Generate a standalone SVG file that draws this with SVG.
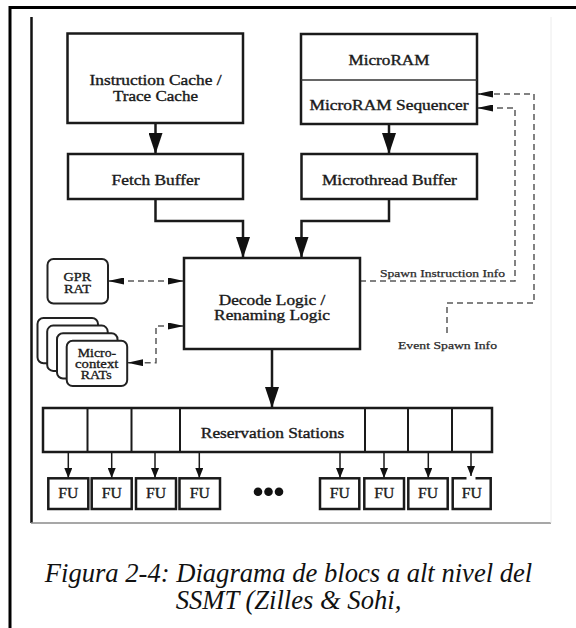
<svg xmlns="http://www.w3.org/2000/svg" width="576" height="628" viewBox="0 0 576 628">
  <defs>
    <style>
      .box { fill: #fff; stroke: #1a1a1a; stroke-width: 2.5; }
      .rbox { fill: #fff; stroke: #222; stroke-width: 2; }
      .lbl { font-family: "Liberation Serif", "Times New Roman", serif; font-size: 14px; fill: #1a1a1a; stroke: #1a1a1a; stroke-width: 0.35; text-anchor: middle; }
      .sm { font-size: 11.5px; stroke-width: 0.3; }
      .note { font-family: "Liberation Serif", "Times New Roman", serif; font-size: 11px; fill: #2a2a2a; stroke: #2a2a2a; stroke-width: 0.25; text-anchor: middle; }
      .cap { font-family: "Liberation Serif", "Times New Roman", serif; font-style: italic; font-size: 26.6px; fill: #111; text-anchor: middle; }
      .flow { fill: none; stroke: #1a1a1a; stroke-width: 2.5; }
      .thin { fill: none; stroke: #1a1a1a; stroke-width: 1.5; }
      .dash { fill: none; stroke: #5a5a5a; stroke-width: 1.5; stroke-dasharray: 6 4; }
    </style>
    <marker id="big" markerUnits="userSpaceOnUse" markerWidth="21" markerHeight="14" refX="21" refY="7" orient="auto">
      <path d="M0,0 L21,7 L0,14 z" fill="#111"/>
    </marker>
    <marker id="small" markerUnits="userSpaceOnUse" markerWidth="10" markerHeight="8" refX="10" refY="4" orient="auto">
      <path d="M0,0 L10,4 L0,8 z" fill="#111"/>
    </marker>
    <marker id="dhead" markerUnits="userSpaceOnUse" markerWidth="16" markerHeight="7" refX="16" refY="3.5" orient="auto-start-reverse">
      <path d="M0,0 L16,3.5 L0,7 z" fill="#111"/>
    </marker>
  </defs>

  <rect width="576" height="628" fill="#fff"/>

  <!-- page frame -->
  <g id="frame">
    <path d="M10,628 V7.5 H576" fill="none" stroke="#000" stroke-width="3"/>
    <line x1="31.5" y1="17" x2="31.5" y2="523" stroke="#111" stroke-width="2.5"/>
    <line x1="31" y1="523" x2="551" y2="523" stroke="#8a8a8a" stroke-width="1.3"/>
    <line x1="551" y1="17" x2="551" y2="523" stroke="#ececec" stroke-width="1"/>
  </g>

  <!-- connectors -->
  <g id="connectors">
    <line class="flow" x1="155.5" y1="123" x2="155.5" y2="154" marker-end="url(#big)"/>
    <line class="flow" x1="389" y1="124" x2="389" y2="154" marker-end="url(#big)"/>
    <path class="flow" d="M155.5,199 V221 H243 V258" marker-end="url(#big)"/>
    <path class="flow" d="M389,199 V221 H301.5 V258" marker-end="url(#big)"/>
    <line class="flow" x1="272" y1="349" x2="272" y2="408" marker-end="url(#big)"/>

    <path class="dash" d="M108,281 H184" marker-start="url(#dhead)" marker-end="url(#dhead)"/>
    <path class="dash" d="M184,326 H156 V362.7 H127.3" marker-start="url(#dhead)" marker-end="url(#dhead)"/>
    <path class="dash" d="M360,281 H515 V108 H477" marker-end="url(#dhead)"/>
    <path class="dash" d="M447,333 V303 H534 V94 H477" marker-end="url(#dhead)"/>

    <line class="thin" x1="68.3" y1="452" x2="68.3" y2="478" marker-end="url(#small)"/>
    <line class="thin" x1="111.7" y1="452" x2="111.7" y2="478" marker-end="url(#small)"/>
    <line class="thin" x1="155" y1="452" x2="155" y2="478" marker-end="url(#small)"/>
    <line class="thin" x1="199.3" y1="452" x2="199.3" y2="478" marker-end="url(#small)"/>
    <line class="thin" x1="340" y1="452" x2="340" y2="478" marker-end="url(#small)"/>
    <line class="thin" x1="384" y1="452" x2="384" y2="478" marker-end="url(#small)"/>
    <line class="thin" x1="428.3" y1="452" x2="428.3" y2="478" marker-end="url(#small)"/>
    <line class="thin" x1="471" y1="452" x2="471" y2="476" marker-end="url(#small)"/>
  </g>

  <g id="icache">
    <rect class="box" x="67.5" y="33.5" width="175.5" height="89.5"/>
    <text class="lbl" x="155.5" y="85" textLength="132" lengthAdjust="spacingAndGlyphs">Instruction Cache /</text>
    <text class="lbl" x="155.5" y="101" textLength="85" lengthAdjust="spacingAndGlyphs">Trace Cache</text>
  </g>

  <g id="microram">
    <rect class="box" x="301" y="34" width="176" height="90"/>
    <line x1="301" y1="80" x2="477" y2="80" stroke="#333" stroke-width="1.3"/>
    <text class="lbl" x="389" y="64.5" textLength="81" lengthAdjust="spacingAndGlyphs">MicroRAM</text>
    <text class="lbl" x="389" y="109.5" textLength="159" lengthAdjust="spacingAndGlyphs">MicroRAM Sequencer</text>
  </g>

  <g id="fetch-buffer">
    <rect class="box" x="68" y="154" width="175" height="45"/>
    <text class="lbl" x="155.5" y="184.5" textLength="88" lengthAdjust="spacingAndGlyphs">Fetch Buffer</text>
  </g>

  <g id="microthread-buffer">
    <rect class="box" x="301.5" y="154" width="175.5" height="45"/>
    <text class="lbl" x="389.4" y="184.5" textLength="135" lengthAdjust="spacingAndGlyphs">Microthread Buffer</text>
  </g>

  <g id="decode">
    <rect class="box" x="184" y="258" width="176" height="91"/>
    <text class="lbl" x="272" y="304.5" textLength="106.6" lengthAdjust="spacingAndGlyphs">Decode Logic /</text>
    <text class="lbl" x="272" y="319.5" textLength="115.8" lengthAdjust="spacingAndGlyphs">Renaming Logic</text>
  </g>

  <g id="gpr-rat">
    <rect class="rbox" x="47.5" y="259" width="60.5" height="44.5" rx="6"/>
    <text class="lbl sm" x="77.3" y="280.5" textLength="27.7" lengthAdjust="spacingAndGlyphs">GPR</text>
    <text class="lbl sm" x="77.5" y="292.5" textLength="27" lengthAdjust="spacingAndGlyphs">RAT</text>
  </g>

  <g id="microcontext-rats">
    <rect class="rbox" x="37.5" y="318" width="60.5" height="45.3" rx="6"/>
    <rect class="rbox" x="47.2" y="325.6" width="60.5" height="45.3" rx="6"/>
    <rect class="rbox" x="57" y="333.2" width="60.5" height="45.3" rx="6"/>
    <rect class="rbox" x="66.7" y="340.8" width="60.5" height="45.3" rx="6"/>
    <text class="lbl sm" x="97" y="356.5" textLength="38.3" lengthAdjust="spacingAndGlyphs">Micro-</text>
    <text class="lbl sm" x="96.7" y="367.5" textLength="43.3" lengthAdjust="spacingAndGlyphs">context</text>
    <text class="lbl sm" x="96.2" y="378.5" textLength="31" lengthAdjust="spacingAndGlyphs">RATs</text>
  </g>

  <g id="spawn-labels">
    <text class="note" x="442.5" y="277" textLength="125" lengthAdjust="spacingAndGlyphs">Spawn Instruction Info</text>
    <text class="note" x="447.5" y="349" textLength="99" lengthAdjust="spacingAndGlyphs">Event Spawn Info</text>
  </g>

  <g id="reservation-stations">
    <rect class="box" x="43" y="408" width="449" height="44" stroke-width="2"/>
    <path d="M87.5,408 V452 M131.5,408 V452 M180,408 V452 M365,408 V452 M408,408 V452 M452,408 V452" stroke="#1a1a1a" stroke-width="2"/>
    <text class="lbl" x="272.5" y="438" textLength="143.4" lengthAdjust="spacingAndGlyphs">Reservation Stations</text>
  </g>

  <g id="fu1"><rect class="box" x="48.3" y="478.3" width="40" height="30.7"/><text class="lbl" x="68.3" y="498" textLength="20" lengthAdjust="spacingAndGlyphs">FU</text></g>
  <g id="fu2"><rect class="box" x="91.7" y="478.3" width="40" height="30.7"/><text class="lbl" x="111.7" y="498" textLength="20" lengthAdjust="spacingAndGlyphs">FU</text></g>
  <g id="fu3"><rect class="box" x="136" y="478.3" width="40" height="30.7"/><text class="lbl" x="156" y="498" textLength="20" lengthAdjust="spacingAndGlyphs">FU</text></g>
  <g id="fu4"><rect class="box" x="179.5" y="478.3" width="40.5" height="30.7"/><text class="lbl" x="199.7" y="498" textLength="20" lengthAdjust="spacingAndGlyphs">FU</text></g>
  <g id="fu5"><rect class="box" x="320" y="478.3" width="39.3" height="30.7"/><text class="lbl" x="339.7" y="498" textLength="20" lengthAdjust="spacingAndGlyphs">FU</text></g>
  <g id="fu6"><rect class="box" x="364.3" y="478.3" width="39.7" height="30.7"/><text class="lbl" x="384.2" y="498" textLength="20" lengthAdjust="spacingAndGlyphs">FU</text></g>
  <g id="fu7"><rect class="box" x="408.3" y="478.3" width="39.4" height="30.7"/><text class="lbl" x="428" y="498" textLength="20" lengthAdjust="spacingAndGlyphs">FU</text></g>
  <g id="fu8">
    <path d="M466.5,478.3 H452.7 V509 H490.7 V478.3 H475.5" fill="#fff" stroke="#1a1a1a" stroke-width="2.5"/>
    <text class="lbl" x="471.7" y="498" textLength="20" lengthAdjust="spacingAndGlyphs">FU</text>
  </g>

  <g id="ellipsis" fill="#111">
    <circle cx="258" cy="491.7" r="4.3"/>
    <circle cx="268.5" cy="491.7" r="4.3"/>
    <circle cx="279" cy="491.7" r="4.3"/>
  </g>

  <g id="caption">
    <text class="cap" x="288.5" y="582">Figura 2-4: Diagrama de blocs a alt nivel del</text>
    <text class="cap" x="288.5" y="609">SSMT (Zilles &amp; Sohi, </text>
  </g>
</svg>
